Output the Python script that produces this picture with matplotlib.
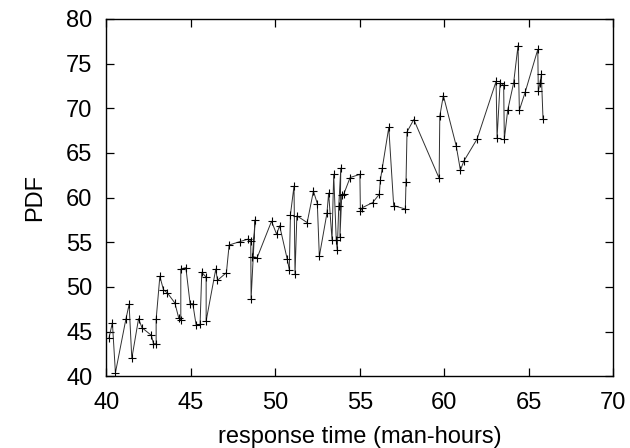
import matplotlib
matplotlib.use("Agg")
import matplotlib.pyplot as plt

# response time (man-hours) vs PDF
resp_time = [40.15, 40.35, 40.53, 41.15, 41.34, 41.5, 41.9, 42.1, 42.66, 42.78,
             42.94, 42.94, 43.16, 43.37, 43.61, 44.05, 44.28, 44.4, 44.4, 44.7,
             44.95, 45.11, 45.31, 45.54, 45.64, 45.9, 45.9, 46.47, 46.57, 47.1,
             47.26, 47.89, 48.4, 48.54, 48.56, 48.8, 48.64, 48.92, 49.77, 50.07,
             50.25, 50.7, 50.82, 50.89, 51.1, 51.16, 51.27, 51.88, 52.25, 52.48,
             52.6, 53.05, 53.15, 53.35, 53.45, 53.6, 53.66, 53.75, 53.87, 53.82,
             53.93, 54.05, 54.42, 55.0, 55.03, 55.15, 55.75, 56.15, 56.21, 56.33,
             56.71, 57.0, 57.69, 57.73, 57.79, 58.19, 59.69, 59.73, 59.94, 60.7,
             60.95, 61.15, 61.94, 63.06, 63.12, 63.3, 63.51, 63.55, 63.75, 64.1,
             64.36, 64.44, 64.79, 65.53, 65.56, 65.66, 65.74, 65.84]
pdf = [44.3, 46.0, 40.4, 46.4, 48.05, 42.0, 46.45, 45.44, 44.58, 43.65,
       43.65, 46.37, 51.19, 49.7, 49.32, 48.2, 46.5, 46.26, 52.0, 52.16,
       48.13, 48.13, 45.7, 45.8, 51.64, 51.1, 46.2, 52.0, 50.74, 51.6,
       54.69, 55.07, 55.36, 55.14, 48.7, 57.5, 53.4, 53.28, 57.35, 55.9,
       56.85, 53.1, 51.94, 58.1, 61.27, 51.4, 57.96, 57.2, 60.72, 59.33,
       53.43, 58.25, 60.5, 55.3, 62.6, 55.3, 54.1, 59.05, 63.3, 55.6,
       60.3, 60.4, 62.24, 62.6, 58.47, 58.88, 59.43, 60.37, 61.94, 63.36,
       67.84, 59.1, 58.72, 61.75, 67.35, 68.73, 62.16, 69.1, 71.42, 65.8,
       63.06, 64.07, 66.56, 72.99, 66.68, 72.83, 72.58, 66.56, 69.78, 72.83,
       77.0, 69.78, 71.83, 76.57, 71.9, 72.83, 73.77, 68.8]

plt.rcParams['font.family'] = ['Liberation Sans', 'DejaVu Sans']

fig = plt.figure(figsize=(6.3, 4.48), dpi=100)
ax = fig.add_axes([0.169, 0.16, 0.8045, 0.798])

ax.plot(resp_time, pdf, color='#303030', lw=0.7, marker='+', ms=6,
        mew=0.8, mec='black')

ax.set_xlim(40, 70)
ax.set_ylim(40, 80)
ax.set_xticks(range(40, 71, 5))
ax.set_yticks(range(40, 81, 5))
ax.tick_params(direction='in', length=6, width=0.9, labelsize=17,
               top=True, right=True)
ax.tick_params(axis='x', pad=11)
ax.tick_params(axis='y', pad=10)
for s in ax.spines.values():
    s.set_linewidth(1.0)

ax.set_xlabel('response time (man-hours)', fontsize=17)
ax.set_ylabel('PDF', fontsize=17)
ax.xaxis.set_label_coords(0.5, -0.138)
ax.yaxis.set_label_coords(-0.12, 0.5)

fig.savefig('out.png', dpi=100)
